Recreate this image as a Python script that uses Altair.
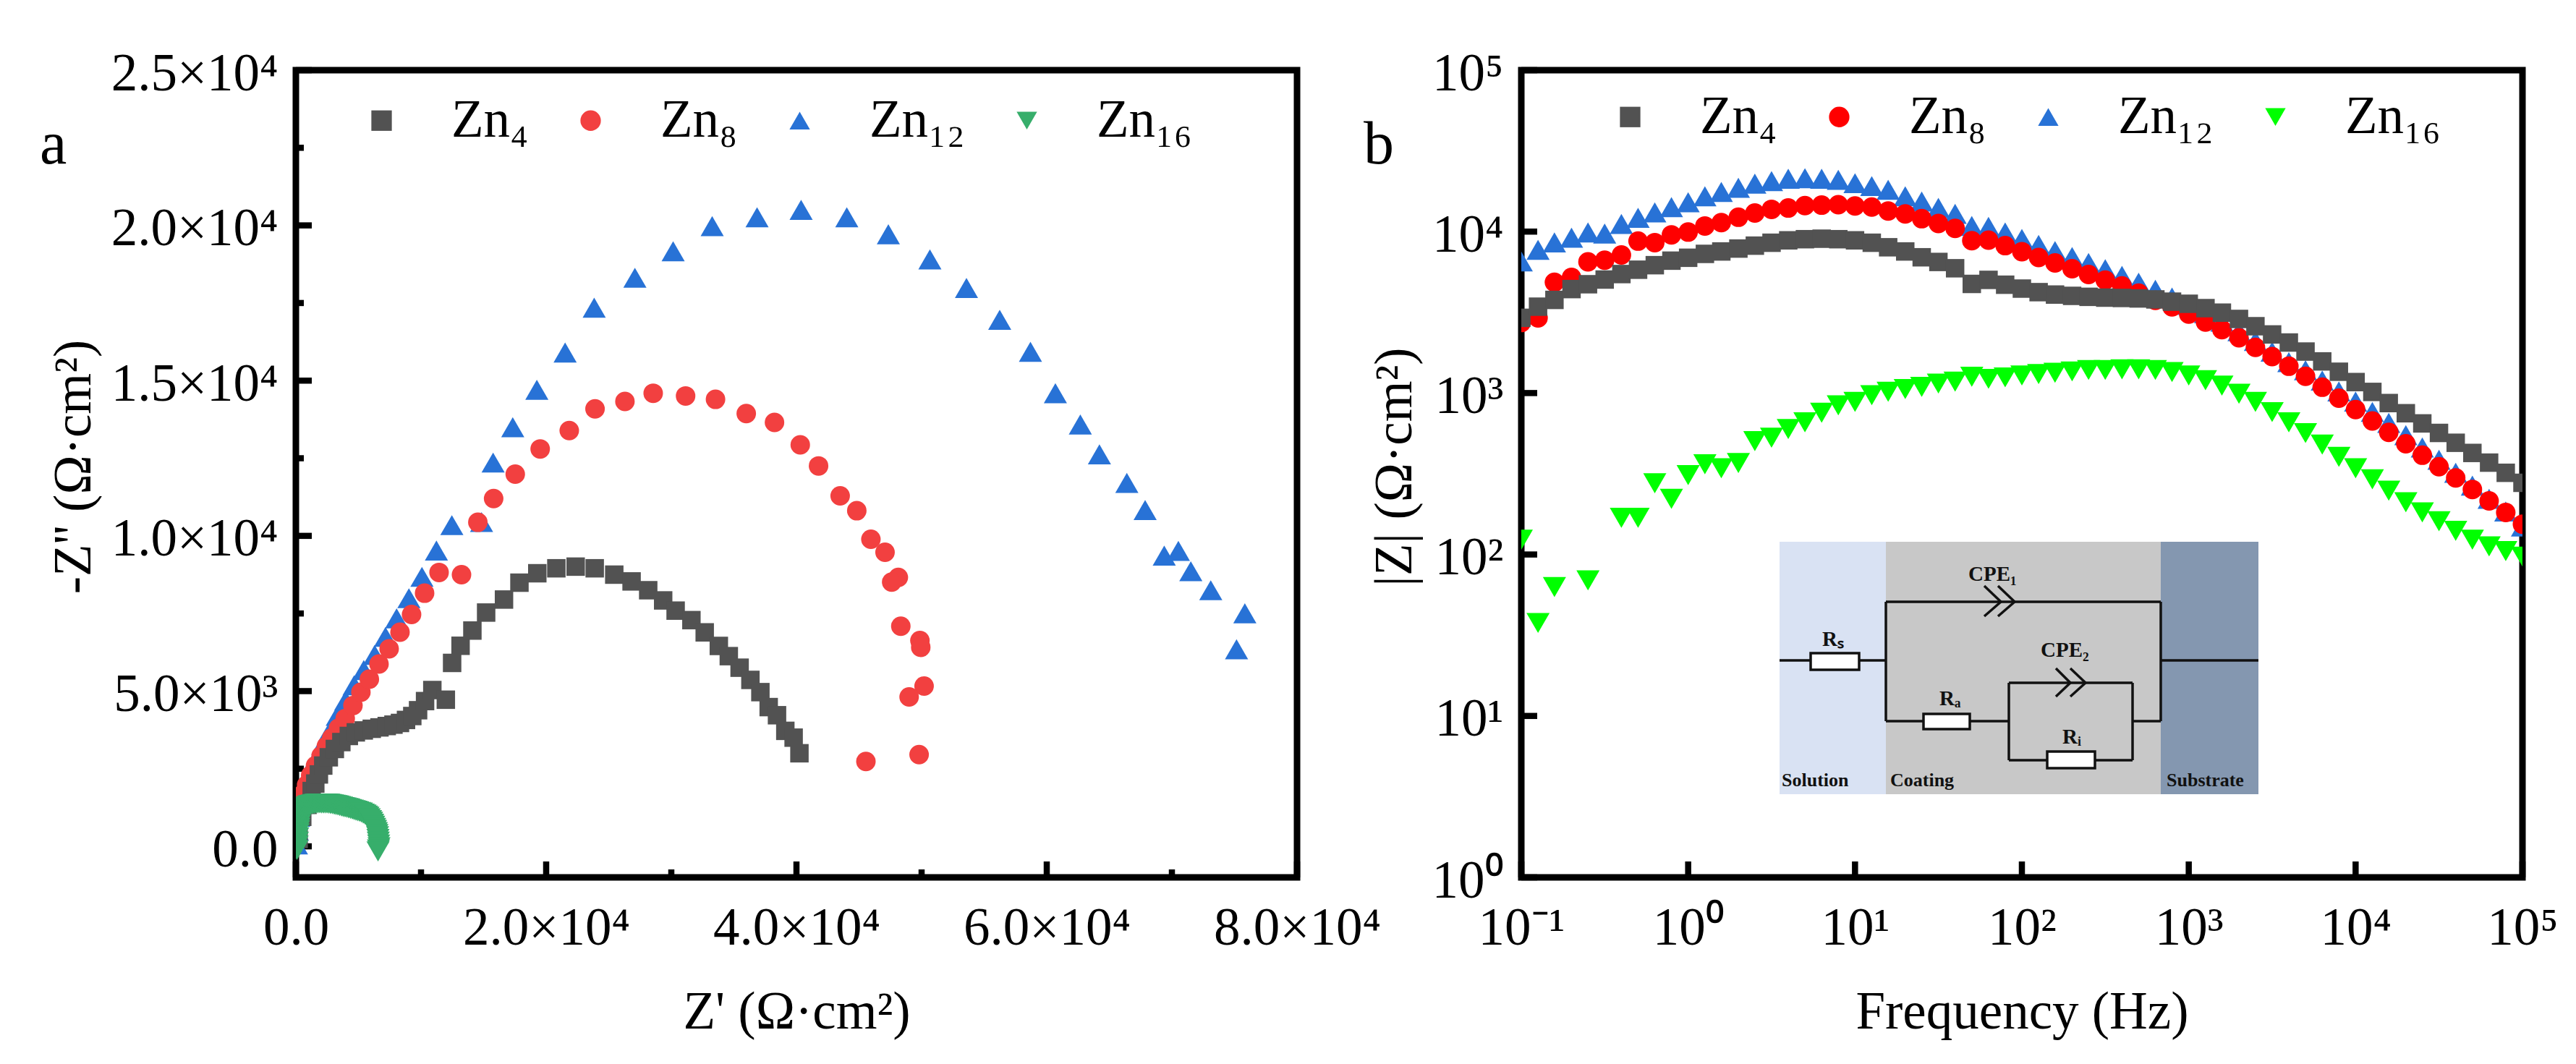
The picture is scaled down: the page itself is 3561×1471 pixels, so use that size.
import json
import altair as alt
import pandas as pd

NAMES = ["Zn₄", "Zn₈", "Zn₁₂", "Zn₁₆"]
MARK_AREA = {"Zn₄": 650, "Zn₈": 729, "Zn₁₂": 1024, "Zn₁₆": 1024}
SERIF = "Liberation Serif"

# ---------- panel a: Nyquist ----------
a_zn12_re = [48,125,222,415,666,936,1282,1668,2150,2728,3306,3981,4656,5427,6295,7162,8050,9033,10074,11231,12465,14838,15761,
             17330,19256,21514,23838,27091,30146,33266,36852,40371,44023,47343,50663,53585,56241,58698,60690,62682,64209,66400,67861,69388,70517,71513,73106,75829,75165]
a_zn12_im = [60,507,952,1398,1754,2111,2467,2868,3270,3715,4205,4696,5186,5676,6166,6746,7343,7993,8680,9526,10346,10445,12361,
             13500,14703,15907,17351,18314,19167,19976,20261,20502,20261,19714,18904,17985,16957,15929,14594,13587,12625,11706,10831,9365,9518,8861,8249,7505,6345]
a_zn8_re = [87,222,511,858,1186,1571,2015,2439,2863,3403,3943,4560,5196,5871,6642,7452,8320,9245,10286,11443,13236,14542,15803,17530,19522,21846,23904,26294,28552,31142,33532,35989,38246,40305,41766,43492,44820,45949,47078,48140,47609,48339,49866,49933,50198,49003,49800,45550]
a_zn8_im = [952,1309,1665,1977,2289,2601,2913,3225,3492,3804,4116,4535,4963,5382,5872,6362,6897,7467,8154,8822,8751,10437,11203,11990,12800,13391,14091,14331,14594,14507,14397,13938,13653,12931,12253,11290,10809,9890,9474,8664,8511,7089,6630,6411,5164,4814,2954,2735]
a_zn4_re = [222,511,935,1263,1552,1841,2188,2632,3114,3634,4232,4791,5427,6064,6681,7260,7799,8319,8801,9303,9766,10324,10904,11984,12485,13160,14105,15204,16631,17865,19292,20815,22357,23880,25442,26826,28154,29349,30345,31606,32669,33798,34594,35458,36321,37118,37782,38446,39110,39774,40238]
a_zn4_im = [239,952,1336,1781,2022,2316,2601,2868,3136,3358,3555,3671,3733,3786,3831,3875,3920,3974,4071,4197,4384,4678,5034,4723,5908,6460,6950,7530,7949,8492,8796,8956,9009,8956,8751,8533,8249,7921,7592,7286,6892,6455,6126,5754,5361,4967,4485,4223,3720,3501,2998]
a_zn16_re = [87,105,125,150,183,210,241,280,318,355,395,430,472,530,588,665,742,840,935,1060,1186,1330,1475,1620,1764,1910,2053,2200,2342,2490,2632,2775,2921,3065,3210,3355,3499,3645,3788,3930,4078,4220,4367,4510,4656,4800,4945,5090,5234,5380,5523,5640,5755,5860,5967,6055,6140,6220,6295,6365,6430,6480,6527,6560,6585,6615,6642,6600,6565]
a_zn16_im = [-118,20,150,290,418,510,596,690,774,845,908,975,1042,1095,1148,1195,1237,1270,1300,1320,1336,1350,1362,1372,1380,1382,1380,1380,1380,1376,1371,1362,1353,1340,1327,1314,1300,1282,1264,1250,1237,1220,1202,1184,1166,1148,1130,1108,1086,1055,1023,990,952,900,845,790,729,665,596,530,462,395,328,240,150,60,-28,-100,-162]

# ---------- panel b: Bode (|Z| read as log10 on the decade axis) ----------
freq = [0.1,0.126,0.158,0.2,0.251,0.316,0.398,0.501,0.631,0.794,
        1,1.26,1.58,2,2.51,3.16,3.98,5.01,6.31,7.94,
        10,12.6,15.8,20,25.1,31.6,39.8,50.1,63.1,79.4,
        100,126,158,200,251,316,398,501,631,794,
        1000,1260,1580,2000,2510,3160,3980,5010,6310,7940,
        10000,12600,15800,20000,25100,31600,39800,50100,63100,79400,100000]
b_zn4_log = [3.466,3.535,3.577,3.644,3.674,3.703,3.737,3.764,3.792,3.820,3.838,3.862,3.877,3.895,3.913,3.931,3.946,3.953,3.956,3.953,3.946,3.931,3.903,3.877,3.841,3.812,3.773,3.676,3.701,3.671,3.647,3.625,3.610,3.602,3.596,3.591,3.589,3.586,3.580,3.566,3.553,3.526,3.498,3.459,3.414,3.363,3.313,3.257,3.196,3.132,3.068,3.007,2.938,2.875,2.812,2.753,2.692,2.629,2.569,2.506,2.444]
b_zn8_log = [3.437,3.466,3.686,3.716,3.813,3.823,3.855,3.941,3.932,3.980,3.997,4.035,4.056,4.089,4.115,4.138,4.146,4.161,4.164,4.167,4.159,4.152,4.128,4.110,4.080,4.050,4.020,3.944,3.947,3.913,3.876,3.840,3.806,3.770,3.734,3.700,3.664,3.619,3.574,3.534,3.489,3.440,3.393,3.342,3.283,3.226,3.166,3.104,3.036,2.968,2.898,2.827,2.757,2.686,2.615,2.544,2.474,2.403,2.332,2.260,2.188]
b_zn12_log = [3.815,3.887,3.933,3.962,3.995,3.988,4.047,4.085,4.119,4.152,4.182,4.219,4.246,4.271,4.297,4.313,4.327,4.331,4.327,4.321,4.300,4.282,4.259,4.219,4.186,4.147,4.110,4.035,4.029,3.995,3.955,3.918,3.880,3.843,3.806,3.767,3.726,3.684,3.640,3.592,3.547,3.495,3.443,3.383,3.323,3.256,3.192,3.141,3.077,3.010,2.947,2.883,2.815,2.739,2.663,2.587,2.506,2.427,2.345,2.266,2.173]
b_zn16_log = [2.092,1.576,1.798,None,1.840,None,2.227,2.227,2.441,2.345,2.492,2.559,2.534,2.567,2.702,2.723,2.777,2.819,2.878,2.924,2.945,2.987,3.008,3.025,3.038,3.059,3.071,3.101,3.088,3.097,3.109,3.118,3.126,3.134,3.143,3.143,3.147,3.147,3.143,3.130,3.109,3.080,3.046,2.996,2.945,2.882,2.819,2.752,2.681,2.605,2.534,2.466,2.395,2.324,2.261,2.206,2.147,2.092,2.050,2.021,1.987]

# ---------- axes ----------
a_x_ticks = [0, 20000, 40000, 60000, 80000]
a_x_labels = ["0.0", "2.0×10⁴", "4.0×10⁴", "6.0×10⁴", "8.0×10⁴"]
a_y_ticks = [0, 5000, 10000, 15000, 20000, 25000]
a_y_labels = ["0.0", "5.0×10³", "1.0×10⁴", "1.5×10⁴", "2.0×10⁴", "2.5×10⁴"]
a_x_minor = [10000, 30000, 50000, 70000]
a_y_minor = [2500, 7500, 12500, 17500, 22500]
b_x_ticks = [0.1, 1, 10, 100, 1000, 10000, 100000]
b_x_labels = ["10⁻¹", "10⁰", "10¹", "10²", "10³", "10⁴", "10⁵"]
b_y_ticks = [1, 10, 100, 1000, 10000, 100000]
b_y_labels = ["10⁰", "10¹", "10²", "10³", "10⁴", "10⁵"]

W, H = 1384, 1116
FONT = 73
MAJOR, MINOR, TICKW = 22, 11, 8.5


def label_expr(vals, labels):
    return json.dumps({str(v): l for v, l in zip(vals, labels)}, ensure_ascii=False) + "[datum.value]"


def axis(vals, labels, title, horizontal, title_pos):
    opts = dict(values=vals, labelExpr=label_expr(vals, labels), title=title, grid=False, ticks=False,
                tickSize=0, domain=False, labelFont=SERIF, labelFontSize=FONT, labelColor="black",
                labelOverlap=False, labelFlush=False, labelLimit=600, titleFont=SERIF, titleFontSize=FONT,
                titleFontWeight="normal", titleColor="black", titleBaseline="alphabetic")
    if horizontal:
        opts.update(labelBaseline="alphabetic", labelPadding=92, titleY=title_pos)
    else:
        opts.update(labelPadding=25, labelOffset=5, titleX=title_pos, titleY=548)
    return alt.Axis(**opts)


def panel(df, xe, ye, x_major, x_minor, y_major, y_minor, colors, letter, letter_x, legend_x, legend_y, extra=()):
    shapes = ["square", "circle", "triangle-up", "triangle-down"]
    legend = alt.Legend(orient="none", legendX=legend_x, legendY=legend_y, direction="horizontal", columns=4, title=None,
                        labelFont=SERIF, labelFontSize=FONT, labelColor="black", labelOffset=60, columnPadding=49,
                        symbolStrokeWidth=0, symbolOpacity=1, labelLimit=400, symbolSize=800)
    layers = list(extra)
    for vals, n in ((x_major, MAJOR), (x_minor, MINOR)):
        if vals:
            layers.append(alt.Chart(pd.DataFrame({"v": vals})).mark_rule(color="black", strokeWidth=TICKW).encode(
                x=alt.X("v:Q", scale=xe[0], axis=xe[1]), y=alt.value(H), y2=alt.value(H - n)))
    for vals, n in ((y_major, MAJOR), (y_minor, MINOR)):
        if vals:
            layers.append(alt.Chart(pd.DataFrame({"v": vals})).mark_rule(color="black", strokeWidth=TICKW).encode(
                y=alt.Y("v:Q", scale=ye[0], axis=ye[1]), x=alt.value(0), x2=alt.value(n)))
    layers.append(alt.Chart(df).mark_point(filled=True, opacity=1, strokeWidth=0, clip=True).encode(
        x=alt.X("x:Q", scale=xe[0], axis=xe[1]),
        y=alt.Y("y:Q", scale=ye[0], axis=ye[1]),
        color=alt.Color("series:N", scale=alt.Scale(domain=NAMES, range=colors), legend=legend),
        shape=alt.Shape("series:N", scale=alt.Scale(domain=NAMES, range=shapes), legend=legend),
        size=alt.Size("area:Q", scale=None, legend=None),
    ))
    layers.append(alt.Chart().mark_text(text=letter, font=SERIF, fontSize=84, align="left", baseline="alphabetic",
                                        color="black").encode(x=alt.value(letter_x), y=alt.value(129)))
    return alt.layer(*layers).properties(width=W, height=H)


def rows(name, xs, ys):
    return [{"series": name, "x": x, "y": y, "area": MARK_AREA[name]} for x, y in zip(xs, ys)]


# draw order of the reference: blue below red below grey below green
df_a = pd.DataFrame(rows(NAMES[2], a_zn12_re, a_zn12_im) + rows(NAMES[1], a_zn8_re, a_zn8_im)
                    + rows(NAMES[0], a_zn4_re, a_zn4_im) + rows(NAMES[3], a_zn16_re, a_zn16_im))
z12 = [10 ** v for v in b_zn12_log]
z8 = [10 ** v for v in b_zn8_log]
z4 = [10 ** v for v in b_zn4_log]
z16 = [None if v is None else 10 ** v for v in b_zn16_log]
df_b = pd.DataFrame(rows(NAMES[2], freq, z12) + rows(NAMES[1], freq, z8) + rows(NAMES[0], freq, z4)
                    + [r for r in rows(NAMES[3], freq, z16) if r["y"] is not None])

# ---------- equivalent-circuit inset of panel b (diagram geometry, pixels of the picture) ----------
OX, OY = 2098, 97
inset_bands = [(2455, 2602, "#D9E2F3"), (2602, 2982, "#C8C8C8"), (2982, 3117, "#8497B0")]
inset_wires = [(2455, 913, 2602, 913), (2602, 832, 2982, 832), (2602, 832, 2602, 997), (2982, 832, 2982, 997),
               (2982, 913, 3117, 913), (2602, 997, 2772, 997), (2772, 944, 2943, 944), (2772, 1051, 2943, 1051),
               (2772, 944, 2772, 1051), (2943, 944, 2943, 1051), (2943, 997, 2982, 997),
               (2738, 810, 2761, 832), (2738, 852, 2761, 832), (2757, 810, 2780, 832), (2757, 852, 2780, 832),
               (2837, 924, 2857, 944), (2837, 963, 2857, 944), (2857, 924, 2878, 944), (2857, 963, 2878, 944)]
inset_resistors = [(2498, 903, 2565, 926), (2654, 987, 2718, 1008), (2825, 1039, 2891, 1062)]
inset_labels = [(2716, 803, "CPE₁", 29), (2816, 908, "CPE₂", 29), (2514, 893, "Rₛ", 29), (2676, 975, "Rₐ", 29),
                (2846, 1028, "Rᵢ", 29), (2458, 1087, "Solution", 26), (2608, 1087, "Coating", 26),
                (2990, 1087, "Substrate", 26)]

inset = []
for x0, x1, col in inset_bands:
    inset.append(alt.Chart().mark_rect(color=col).encode(
        x=alt.value(x0 - OX), x2=alt.value(x1 - OX), y=alt.value(749 - OY), y2=alt.value(1098 - OY)))
for x0, y0, x1, y1 in inset_wires:
    inset.append(alt.Chart().mark_rule(color="#111111", strokeWidth=3.5).encode(
        x=alt.value(x0 - OX), x2=alt.value(x1 - OX), y=alt.value(y0 - OY), y2=alt.value(y1 - OY)))
for x0, y0, x1, y1 in inset_resistors:
    inset.append(alt.Chart().mark_rect(color="white", stroke="#111111", strokeWidth=3.5).encode(
        x=alt.value(x0 - OX), x2=alt.value(x1 - OX), y=alt.value(y0 - OY), y2=alt.value(y1 - OY)))
for x0, y0, txt, fs in inset_labels:
    inset.append(alt.Chart().mark_text(text=txt, font=SERIF, fontSize=fs, fontWeight="bold", align="left",
                                       baseline="alphabetic", color="#111111").encode(
        x=alt.value(x0 - OX), y=alt.value(y0 - OY)))

# ---------- charts ----------
ax_a_x = axis(a_x_ticks, a_x_labels, "Z' (Ω·cm²)", True, 208)
ax_a_y = axis(a_y_ticks, a_y_labels, "-Z'' (Ω·cm²)", False, -285)
ax_b_x = axis(b_x_ticks, b_x_labels, "Frequency (Hz)", True, 208)
ax_b_y = axis(b_y_ticks, b_y_labels, "|Z| (Ω·cm²)", False, -153)

chart_a = panel(df_a,
                (alt.Scale(domain=[0, 80000], nice=False, zero=False), ax_a_x),
                (alt.Scale(domain=[-1000, 25000], nice=False, zero=False), ax_a_y),
                a_x_ticks, a_x_minor, a_y_ticks, a_y_minor,
                ["#525252", "#F24040", "#2872D6", "#37AE6B"], "a", -354, 82, 33)
chart_b = panel(df_b,
                (alt.Scale(type="log", domain=[0.1, 100000], nice=False), ax_b_x),
                (alt.Scale(type="log", domain=[1, 100000], nice=False), ax_b_y),
                b_x_ticks, [], b_y_ticks, [],
                ["#525252", "#FF0000", "#2872D6", "#00FF00"], "b", -218, 114, 28, extra=inset)

chart = alt.hconcat(chart_a, chart_b, spacing=310, bounds="flush").resolve_scale(
    color="independent", shape="independent"
).properties(padding={"left": 42, "top": 53, "right": 5, "bottom": 5}).configure_view(
    stroke="black", strokeWidth=9, fill="white")

chart.save("out.html", embed_options={"renderer": "svg", "actions": False})
